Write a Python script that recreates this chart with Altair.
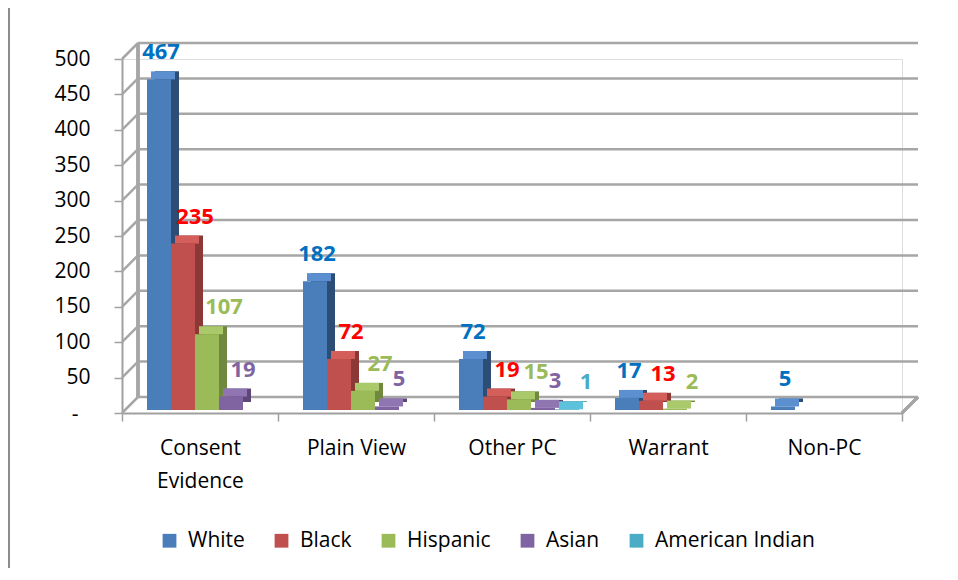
import altair as alt
import pandas as pd

categories = ["Consent Evidence", "Plain View", "Other PC", "Warrant", "Non-PC"]
series = ["White", "Black", "Hispanic", "Asian", "American Indian"]
white = [467, 182, 72, 17, 5]
black = [235, 72, 19, 13, 0]
hispanic = [107, 27, 15, 2, 0]
asian = [19, 5, 3, 0, 0]
american_indian = [0, 0, 1, 0, 0]
y_ticks = [0, 50, 100, 150, 200, 250, 300, 350, 400, 450, 500]

front_colors = ["#4a7ebb", "#c0504d", "#9bbb59", "#8064a2", "#4bacc6"]
top_colors = ["#5b8fd0", "#d45e5a", "#aac96b", "#9075b3", "#5cc1db"]
side_colors = ["#2c4d75", "#8c3836", "#71893f", "#5c4776", "#357d91"]
label_colors = ["#0070c0", "#ff0000", "#9bbb59", "#8064a2", "#4bacc6"]
label_dx = [2, 12, 17, 12, 19]

FONT = "Open Sans"
W, H = 780, 354
DX, DY = 16, -16

rows = []
for s, vals in zip(series, [white, black, hispanic, asian, american_indian]):
    for c, v in zip(categories, vals):
        if v > 0:
            rows.append({"category": c, "series": s, "value": v})
df = pd.DataFrame(rows)
ticks_df = pd.DataFrame({"tick": y_ticks})

yscale = alt.Scale(domain=[0, 500], nice=False, zero=True)
yaxis = alt.Axis(title=None, values=y_ticks, grid=False, labelFont=FONT, labelFontSize=21,
                 labelColor="#000000", domainColor="#a0a0a0", domainWidth=2,
                 tickColor="#a0a0a0", tickWidth=1.5, tickSize=8, labelPadding=24,
                 labelOverlap=False,
                 labelExpr="datum.value == 0 ? '' : datum.label")
xenc = alt.X("category:N", sort=categories,
             scale=alt.Scale(paddingInner=0, paddingOuter=0),
             axis=alt.Axis(title=None, labelFont=FONT, labelFontSize=21, labelColor="#000000",
                           labelAngle=0, domainColor="#a0a0a0", domainWidth=2,
                           tickColor="#a0a0a0", tickWidth=1.5, tickSize=8, tickBand="extent",
                           labelPadding=16, labelLineHeight=33,
                           labelExpr="datum.label == 'Consent Evidence' ? ['Consent', 'Evidence'] : datum.label"))


def xoff(lo):
    return alt.XOffset("series:N", sort=series,
                       scale=alt.Scale(domain=series, range=[lo, lo + 120], paddingInner=0, paddingOuter=0))


def yv(field="value:Q"):
    return alt.Y(field, scale=yscale, axis=yaxis)


grid_style = dict(color="#a6a6a6", strokeWidth=2.5)

back_grid = alt.Chart(ticks_df).mark_rule(yOffset=DY, **grid_style).encode(
    x=alt.value(DX), x2=alt.value(W + DX), y=yv("tick:Q"),
)
diag = alt.Chart(ticks_df).mark_rule(y2Offset=DY, **grid_style).encode(
    x=alt.value(0), x2=alt.value(DX), y=yv("tick:Q"), y2="tick:Q",
)
wall_edge = alt.Chart(ticks_df).mark_rule(yOffset=DY, y2Offset=DY, **grid_style).encode(
    x=alt.value(DX), y=alt.Y(datum=0, scale=yscale, axis=yaxis), y2=alt.datum(500),
)
floor_right = alt.Chart(ticks_df).mark_rule(y2Offset=DY, **grid_style).encode(
    x=alt.value(W), x2=alt.value(W + DX), y=alt.Y(datum=0, scale=yscale, axis=yaxis), y2=alt.datum(0),
)
zero_label = alt.Chart(ticks_df).transform_filter(alt.datum.tick == 0).mark_text(
    font=FONT, fontSize=21, color="#000000", align="center", baseline="middle", dy=2).encode(
    x=alt.value(-47), y=yv("tick:Q"), text=alt.value("-"),
)

side = alt.Chart(df).mark_bar(yOffset=-11, y2Offset=-11).encode(
    x=xenc, xOffset=xoff(33), y=yv(), y2=alt.datum(0),
    color=alt.Color("series:N", sort=series, scale=alt.Scale(domain=series, range=side_colors), legend=None),
)
top = alt.Chart(df).mark_bar(yOffset=-11, y2Offset=-3).encode(
    x=xenc, xOffset=xoff(29), y=yv(), y2="value:Q",
    color=alt.Color("series:N", sort=series, scale=alt.Scale(domain=series, range=top_colors), legend=None),
)
front = alt.Chart(df).mark_bar(yOffset=-3, y2Offset=-3).encode(
    x=xenc, xOffset=xoff(25), y=yv(), y2=alt.datum(0),
    color=alt.Color("series:N", sort=series, scale=alt.Scale(domain=series, range=front_colors),
                    legend=alt.Legend(title=None, orient="none", legendX=37, legendY=471,
                                      direction="horizontal", symbolType="square", symbolSize=190,
                                      symbolStrokeWidth=0, labelFont=FONT, labelFontSize=21,
                                      labelColor="#000000", columnPadding=26, labelOffset=8)),
)

# text marks use a point scale: positions are bar centres (25 + 12 ... 25 + 108)
label_xoff = alt.XOffset("series:N", sort=series,
                         scale=alt.Scale(type="point", domain=series, range=[37, 133], padding=0))
label_layers = []
for s, col, ddx in zip(series, label_colors, label_dx):
    label_layers.append(
        alt.Chart(df).transform_filter(alt.datum.series == s).mark_text(
            font=FONT, fontSize=22, fontWeight="bold", dy=-23, dx=ddx,
            baseline="alphabetic", align="center", color=col).encode(
            x=xenc, xOffset=label_xoff, y=yv(), text="value:Q",
        )
    )

border_l = alt.Chart(ticks_df).mark_rule(color="#8c8c8c", strokeWidth=1.5).encode(
    x=alt.value(-113), y=alt.value(-53), y2=alt.value(H + 200))
border_t = alt.Chart(ticks_df).mark_rule(color="#8c8c8c", strokeWidth=1.5).encode(
    x=alt.value(-113), x2=alt.value(W + 200), y=alt.value(-53))

chart = alt.layer(border_l, border_t, back_grid, diag, wall_edge, floor_right, zero_label,
                  side, top, front, *label_layers).resolve_scale(
    color="independent", xOffset="independent"
).properties(
    width=W, height=H,
    autosize=alt.AutoSizeParams(type="none"),
    padding={"left": 114, "top": 51, "right": 46, "bottom": 155},
).configure_view(stroke=None).configure(background="white")

chart.save("out.html", embed_options={"renderer": "svg", "actions": False})
